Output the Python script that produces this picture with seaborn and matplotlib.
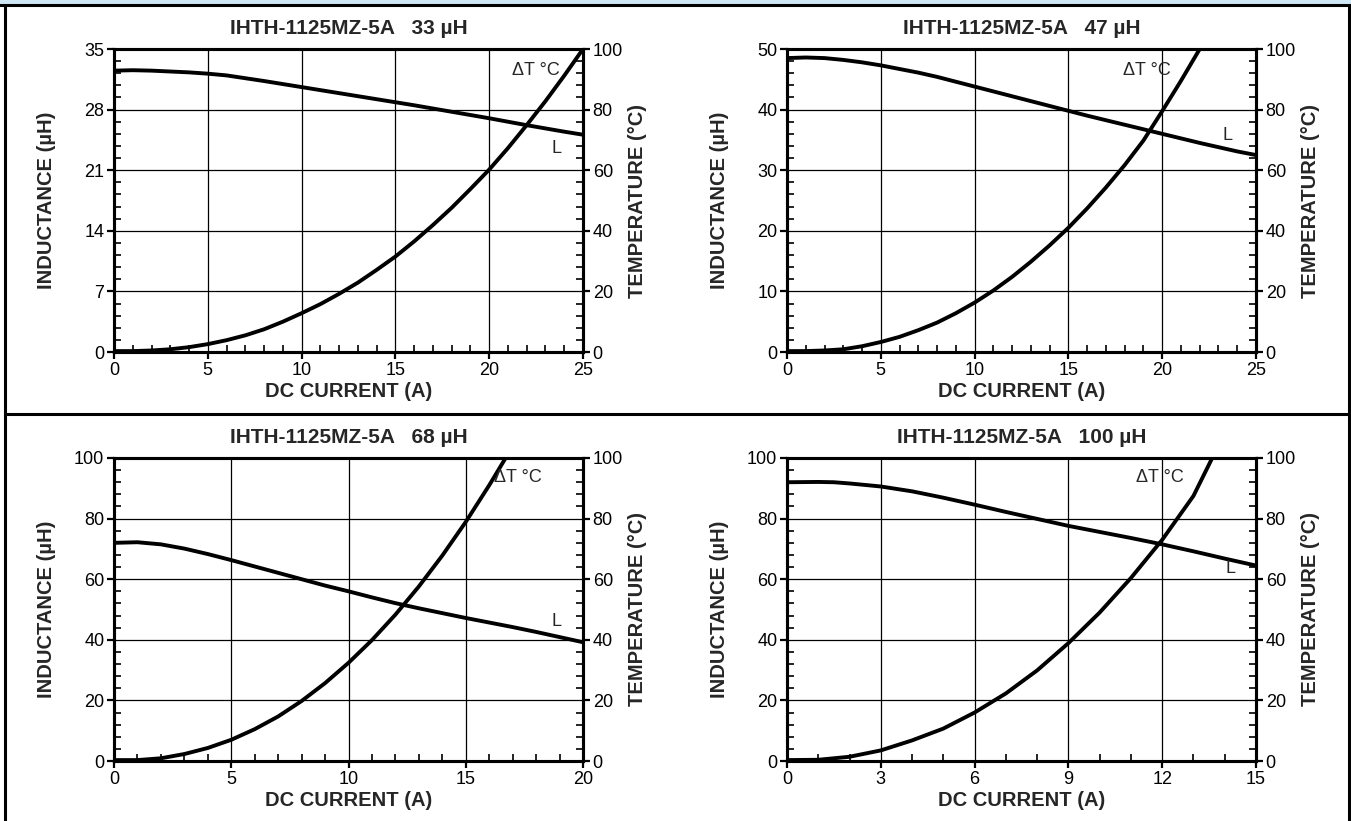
import numpy as np
import pandas as pd
import matplotlib
matplotlib.use("Agg")
import matplotlib.pyplot as plt
from matplotlib.lines import Line2D
from matplotlib.patches import Rectangle
from matplotlib.ticker import MultipleLocator, AutoMinorLocator
import seaborn as sns

# ---------------- data ----------------
titles = ["IHTH-1125MZ-5A   33 µH", "IHTH-1125MZ-5A   47 µH",
          "IHTH-1125MZ-5A   68 µH", "IHTH-1125MZ-5A   100 µH"]

# panel 1: 33 uH
p1_I_L = [0, 1, 2, 3, 4, 5, 6, 8, 10, 12, 14, 16, 18, 20, 22, 24, 25]
p1_L = [32.5, 32.55, 32.5, 32.4, 32.3, 32.15, 31.95, 31.3, 30.6, 29.9, 29.2,
        28.5, 27.75, 27.0, 26.2, 25.45, 25.1]
p1_I_T = [0, 1, 2, 3, 4, 5, 6, 7, 8, 9, 10, 11, 12, 13, 14, 15, 16, 17, 18,
          19, 20, 21, 22, 23, 24, 25]
p1_T = [0.3, 0.3, 0.5, 0.9, 1.6, 2.6, 3.9, 5.5, 7.5, 10.0, 12.8, 15.8, 19.2,
        22.9, 27.1, 31.5, 36.5, 41.9, 47.6, 53.8, 60.2, 67.3, 74.9, 82.8,
        91.2, 100]

# panel 2: 47 uH
p2_I_L = [0, 1, 2, 3, 4, 5, 6, 7, 8, 9, 10, 12, 14, 16, 18, 20, 22, 24, 25]
p2_L = [48.5, 48.6, 48.5, 48.2, 47.8, 47.3, 46.7, 46.1, 45.4, 44.6, 43.8,
        42.2, 40.6, 39.0, 37.5, 36.0, 34.5, 33.1, 32.5]
p2_I_T = [0, 1, 2, 3, 4, 5, 6, 7, 8, 9, 10, 11, 12, 13, 14, 15, 16, 17, 18,
          19, 20, 21, 22]
p2_T = [0.3, 0.3, 0.5, 0.9, 1.9, 3.3, 5.0, 7.2, 9.7, 12.8, 16.3, 20.3, 24.8,
        29.8, 35.2, 41.0, 47.4, 54.3, 61.7, 69.8, 79.5, 89.5, 100]

# panel 3: 68 uH
p3_I_L = [0, 1, 2, 3, 4, 5, 6, 7, 8, 9, 10, 11, 12, 13, 14, 15, 16, 17, 18,
          19, 20]
p3_L = [72.0, 72.2, 71.5, 70.1, 68.3, 66.3, 64.2, 62.1, 60.0, 57.9, 56.0,
        54.0, 52.1, 50.4, 48.8, 47.2, 45.7, 44.2, 42.6, 40.9, 39.2]
p3_I_T = [0, 1, 2, 3, 4, 5, 6, 7, 8, 9, 10, 11, 12, 13, 14, 15, 16, 16.7]
p3_T = [0.3, 0.3, 0.9, 2.3, 4.3, 7.0, 10.5, 14.7, 19.8, 25.7, 32.4, 39.9,
        48.3, 57.6, 67.8, 78.9, 91.0, 100]

# panel 4: 100 uH
p4_I_L = [0, 1, 1.5, 2, 3, 4, 5, 6, 7, 8, 9, 10, 11, 12, 13, 14, 15]
p4_L = [92.0, 92.1, 92.0, 91.6, 90.6, 89.0, 86.9, 84.6, 82.2, 79.9, 77.6,
        75.6, 73.6, 71.5, 69.2, 66.8, 64.5]
p4_I_T = [0, 1, 2, 3, 4, 5, 6, 7, 8, 9, 10, 11, 12, 13, 13.6]
p4_T = [0.3, 0.4, 1.4, 3.5, 6.8, 10.7, 16.0, 22.3, 29.9, 38.9, 49.0, 60.4,
        73.0, 87.5, 100]

x_max = [25, 25, 20, 15]
x_major = [5, 5, 5, 3]
x_minor_div = [5, 5, 5, 3]
l_max = [35, 50, 100, 100]
l_major = [7, 10, 20, 20]

panels = [
    (p1_I_L, p1_L, p1_I_T, p1_T),
    (p2_I_L, p2_L, p2_I_T, p2_T),
    (p3_I_L, p3_L, p3_I_T, p3_T),
    (p4_I_L, p4_L, p4_I_T, p4_T),
]

dT_pos = [(0.90, 0.93), (0.768, 0.93), (0.862, 0.934), (0.795, 0.934)]
L_pos = [(0.943, 0.673), (0.94, 0.716), (0.943, 0.459), (0.945, 0.634)]

# ---------------- style ----------------
sns.set_style("ticks")
plt.rcParams['font.family'] = ['Liberation Sans', 'DejaVu Sans']
plt.rcParams['axes.linewidth'] = 2.2
plt.rcParams['lines.solid_capstyle'] = 'round'
plt.rcParams['lines.solid_joinstyle'] = 'round'

W, H = 1351, 821
fig = plt.figure(figsize=(W / 100, H / 100), dpi=100)

lefts = [114, 787, 114, 787]
tops = [49, 49, 458, 458]
pw, ph = 469, 303

for i in range(4):
    IL, L, IT, T = panels[i]
    rect = [lefts[i] / W, 1 - (tops[i] + ph) / H, pw / W, ph / H]
    ax = fig.add_axes(rect)
    dfL = pd.DataFrame({"I": IL, "L": L})
    dfT = pd.DataFrame({"I": IT, "T": T})

    sns.lineplot(data=dfL, x="I", y="L", ax=ax, color="black", linewidth=2.8)
    ax.set_xlim(0, x_max[i])
    ax.set_ylim(0, l_max[i])
    ax.xaxis.set_major_locator(MultipleLocator(x_major[i]))
    ax.xaxis.set_minor_locator(AutoMinorLocator(x_minor_div[i]))
    ax.yaxis.set_major_locator(MultipleLocator(l_major[i]))
    ax.yaxis.set_minor_locator(AutoMinorLocator(5))
    ax.grid(True, which="major", color="black", linewidth=0.9)
    ax.set_axisbelow(True)

    ax2 = ax.twinx()
    sns.lineplot(data=dfT, x="I", y="T", ax=ax2, color="black", linewidth=2.8)
    ax2.set_ylim(0, 100)
    ax2.set_xlim(0, x_max[i])
    ax2.yaxis.set_major_locator(MultipleLocator(20))
    ax2.yaxis.set_minor_locator(AutoMinorLocator(5))

    for a in (ax, ax2):
        for s in a.spines.values():
            s.set_linewidth(2.2)
            s.set_visible(True)
            s.set_color("black")
        a.tick_params(which="major", direction="out", length=5, width=1.6,
                      labelsize=13, colors="black", pad=2)
        a.tick_params(which="minor", direction="in", length=5, width=1.2,
                      colors="black")
    ax.tick_params(axis="y", which="both", left=True, right=False,
                   labelleft=True, labelright=False)
    ax.tick_params(axis="x", which="both", top=False, bottom=True,
                   labeltop=False)
    ax2.tick_params(axis="y", which="both", left=False, right=True,
                    labelleft=False, labelright=True)
    ax2.tick_params(axis="x", which="both", top=False, bottom=False,
                    labelbottom=False, labeltop=False)

    ax.set_xlabel("DC CURRENT (A)", fontsize=14.5, fontweight="bold")
    ax.set_ylabel("INDUCTANCE (µH)", fontsize=14.5, fontweight="bold")
    ax2.set_xlabel("")
    ax2.set_ylabel("TEMPERATURE (°C)", fontsize=14.5, fontweight="bold",
                   rotation=90)
    ax.xaxis.set_label_coords(0.5, -0.098)
    ax.yaxis.set_label_coords(-0.124, 0.5)
    ax2.yaxis.set_label_coords(1.096, 0.5)
    ax.set_title(titles[i], fontsize=15, fontweight="bold", pad=11)

    ax2.text(dT_pos[i][0], dT_pos[i][1], "ΔT °C", transform=ax2.transAxes,
             ha="center", va="center", fontsize=13)
    ax2.text(L_pos[i][0], L_pos[i][1], "L", transform=ax2.transAxes,
             ha="center", va="center", fontsize=13)

# ---------------- frame decorations ----------------
fig.add_artist(Rectangle((0, 1 - 4.5 / H), 1, 4.5 / H, transform=fig.transFigure,
                         facecolor="#cfe6f5", edgecolor="none"))
lw = 2.2
fig.add_artist(Line2D([0, 1], [1 - 4.8 / H] * 2, transform=fig.transFigure,
                      color="black", linewidth=lw))
fig.add_artist(Line2D([5 / W] * 2, [0, 1 - 4.8 / H], transform=fig.transFigure,
                      color="black", linewidth=lw))
fig.add_artist(Line2D([1349 / W] * 2, [0, 1 - 4.8 / H], transform=fig.transFigure,
                      color="black", linewidth=lw))
fig.add_artist(Line2D([5 / W, 1349 / W], [1 - 414 / H] * 2,
                      transform=fig.transFigure, color="black", linewidth=lw))

fig.savefig("out.png", dpi=100, facecolor="white")
